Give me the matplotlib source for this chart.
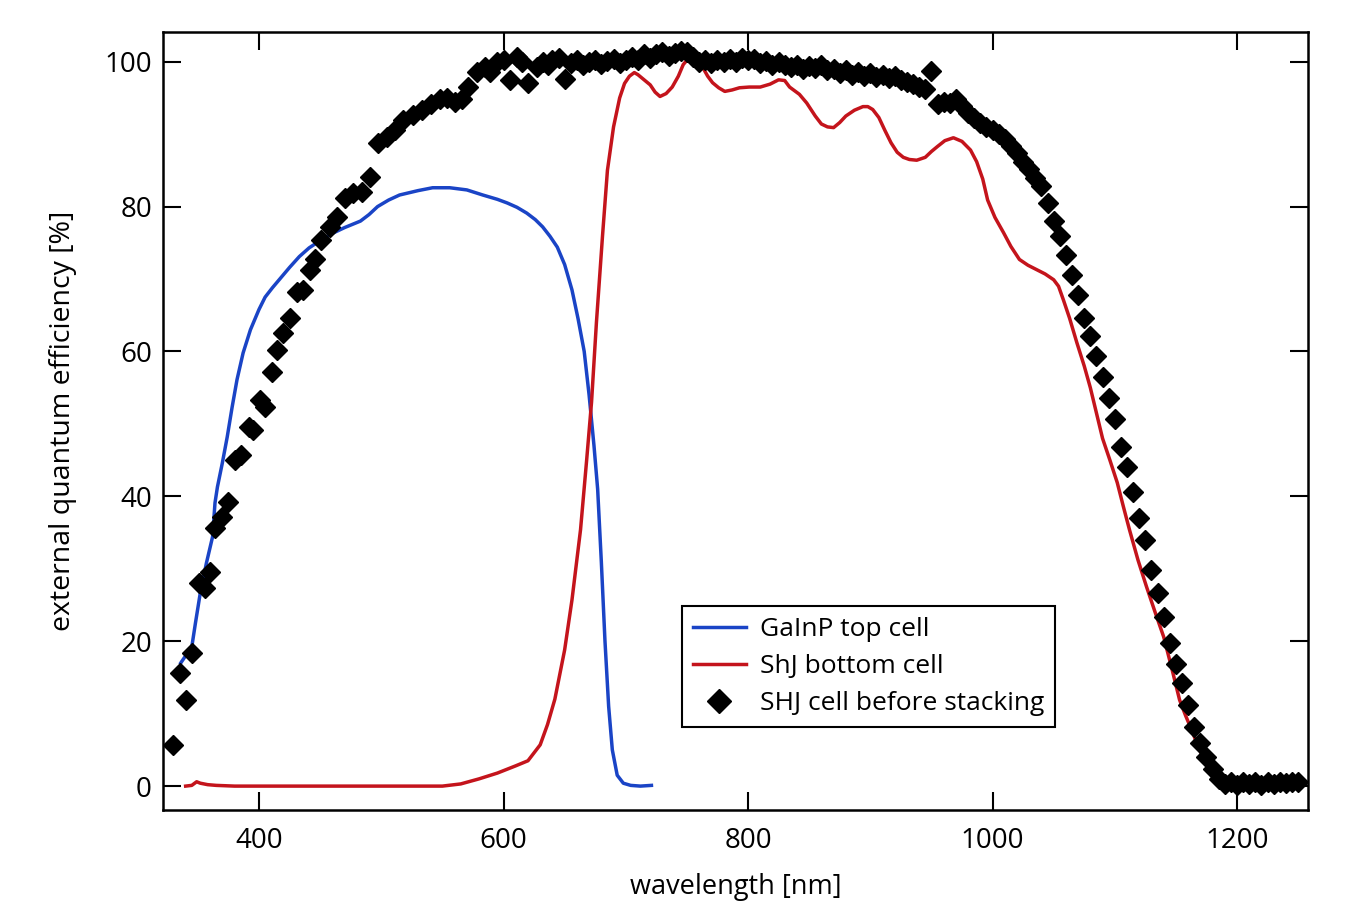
import matplotlib
matplotlib.use("Agg")
import matplotlib.pyplot as plt

plt.rcParams['font.family'] = ['Open Sans', 'DejaVu Sans']

# SHJ cell before stacking (diamonds)
shj_wl = [330, 335, 340, 345, 351, 356, 360, 364, 370, 375, 380, 385, 392, 395, 401, 405,
          411, 415, 420, 425, 431, 436, 442, 446, 451, 458, 464, 470, 477, 484, 491, 497,
          505, 511, 518, 526, 533, 541, 548, 554, 560, 566, 571, 578, 585, 589, 595, 600,
          605, 611, 615, 620, 627, 632, 636, 640, 645, 650, 655, 660, 665, 670, 675, 680,
          685, 690, 695, 700, 705, 710, 715, 720, 725, 730, 735, 740, 745, 750, 755, 760,
          765, 770, 775, 780, 785, 790, 795, 800, 805, 810, 815, 820, 825, 830, 835, 840,
          845, 850, 855, 860, 865, 870, 875, 880, 885, 890, 895, 900, 905, 910, 915, 920,
          925, 930, 935, 940, 945, 950, 955, 960, 965, 970, 975, 980, 985, 990, 995, 1000,
          1005, 1010, 1015, 1020, 1025, 1030, 1035, 1040, 1045, 1050, 1055, 1060, 1065, 1070,
          1075, 1080, 1085, 1090, 1095, 1100, 1105, 1110, 1115, 1120, 1125, 1130, 1135, 1140,
          1145, 1150, 1155, 1160, 1165, 1170, 1175, 1180, 1185, 1190, 1195, 1200, 1205, 1210,
          1215, 1220, 1225, 1230, 1235, 1240, 1245, 1250]
shj_eqe = [5.7, 15.6, 11.9, 18.4, 28.0, 27.3, 29.6, 35.6, 37.2, 39.2, 45.0, 45.7, 49.6, 49.2, 53.3, 52.3,
           57.2, 60.2, 62.6, 64.6, 68.2, 68.5, 71.3, 72.7, 75.4, 77.2, 78.6, 81.2, 81.9, 82.0, 84.1, 88.8,
           89.6, 90.6, 92.0, 92.7, 93.4, 94.1, 94.8, 95.0, 94.5, 94.8, 96.5, 98.6, 99.3, 98.6, 99.9, 100.3,
           97.5, 100.6, 100.0, 97.1, 99.3, 100.0, 99.6, 100.2, 100.5, 97.6, 99.8, 100.3, 99.6, 100.0, 100.2, 99.7,
           100.1, 100.4, 99.8, 100.2, 100.7, 100.3, 101.0, 100.5, 101.0, 101.3, 100.8, 101.2, 101.5, 101.3, 100.6, 99.9,
           100.3, 99.8, 100.2, 99.9, 100.4, 100.0, 100.5, 100.2, 100.4, 99.8, 100.1, 99.5, 99.9, 99.6, 99.3, 99.5,
           99.0, 99.4, 99.1, 99.5, 98.8, 99.0, 98.5, 98.9, 98.2, 98.6, 98.0, 98.4, 97.9, 98.2, 97.7, 98.0,
           97.5, 97.2, 96.9, 96.5, 96.2, 98.7, 94.1, 94.5, 94.3, 94.8, 93.9, 92.9, 92.2, 91.6, 91.0, 90.6,
           90.0, 89.3, 88.3, 87.4, 86.2, 85.2, 84.0, 82.8, 80.5, 78.0, 76.0, 73.3, 70.6, 67.8,
           64.6, 62.1, 59.4, 56.5, 53.6, 50.7, 46.8, 44.1, 40.6, 37.0, 34.0, 29.9, 26.6, 23.4,
           19.8, 16.8, 14.2, 11.2, 8.1, 6.0, 4.0, 2.3, 1.0, 0.3, 0.5, 0.2, 0.6, 0.3,
           0.5, 0.2, 0.6, 0.3, 0.5, 0.4, 0.6, 0.5]

# GaInP top cell (blue)
top_wl = [336, 340, 345, 348, 352, 357, 362, 364, 366, 370, 374, 378, 382, 387, 393, 400,
          405, 411, 417, 425, 433, 441, 450, 460, 470, 483, 490, 497, 506, 515, 530, 542,
          556, 570, 583, 595, 603, 611, 619, 626, 632, 638, 644, 650, 656, 661, 666, 670,
          674, 677, 680, 683, 686, 689, 693, 698, 704, 712, 721]
top_eqe = [17.0, 18.0, 19.2, 22.5, 26.7, 30.8, 34.4, 39.1, 41.3, 44.6, 48.2, 52.3, 56.1, 59.8, 63.0, 65.8,
           67.5, 68.8, 70.0, 71.6, 73.1, 74.3, 75.3, 76.3, 77.1, 78.0, 78.9, 80.0, 80.9, 81.6, 82.2, 82.6,
           82.6, 82.3, 81.6, 81.0, 80.5, 79.9, 79.1, 78.2, 77.2, 75.9, 74.4, 72.0, 68.5, 64.5, 60.0, 54.0,
           47.0, 41.0, 31.0, 20.0, 11.0, 5.0, 1.5, 0.4, 0.1, 0.0, 0.1]

# ShJ bottom cell (red)
bot_wl = [340, 345, 349, 352, 358, 365, 380, 550, 565, 580, 595, 610, 620, 630, 636, 642,
          650, 656, 663, 668, 672, 676, 681, 685, 690, 695, 699, 703, 707, 710, 715, 720, 724,
          728, 733, 738, 743, 747, 751, 755, 759, 763, 767, 771, 776, 781, 787, 793, 801,
          810, 818, 825, 830, 834, 838, 842, 848, 855, 860, 865, 870, 875, 880, 887, 894,
          898, 902, 907, 912, 917, 922, 927, 932, 938, 945, 950, 955, 961, 968, 975, 982,
          987, 992, 996, 1002, 1009, 1015, 1022, 1029, 1036, 1043, 1050, 1054, 1058, 1063,
          1069, 1075, 1080, 1085, 1090, 1096, 1102, 1107, 1112, 1119, 1126, 1133, 1140, 1147,
          1153, 1158, 1162, 1167, 1172, 1176, 1180, 1184, 1188, 1194, 1200]
bot_eqe = [0.0, 0.1, 0.6, 0.4, 0.2, 0.1, 0.0, 0.0, 0.3, 1.0, 1.8, 2.8, 3.5, 5.7, 8.5, 12.0,
           18.8, 25.7, 35.4, 45.0, 53.0, 64.0, 76.0, 85.0, 91.0, 95.0, 97.0, 98.0, 98.5, 98.2, 97.5, 96.8, 95.8,
           95.2, 95.6, 96.5, 98.0, 99.6, 100.4, 100.6, 100.2, 99.2, 98.0, 97.1, 96.4, 95.9, 96.1, 96.4, 96.5,
           96.5, 96.9, 97.5, 97.4, 96.5, 96.0, 95.5, 94.3, 92.5, 91.4, 91.0, 90.9, 91.6, 92.5, 93.3, 93.8,
           93.8, 93.4, 92.3, 90.5, 88.8, 87.5, 86.8, 86.5, 86.4, 86.8, 87.6, 88.3, 89.1, 89.5, 89.0, 87.8,
           86.2, 83.8, 80.9, 78.5, 76.4, 74.5, 72.7, 71.9, 71.3, 70.7, 69.9, 69.0, 67.1, 64.6,
           61.2, 58.0, 55.0, 51.5, 48.0, 45.0, 41.9, 38.6, 35.4, 31.2, 27.5, 24.0, 20.6, 16.0,
           11.9, 9.7, 8.1, 6.0, 4.0, 2.6, 1.5, 0.7, 0.3, 0.2, 0.2]

x_ticks = [400, 600, 800, 1000, 1200]
y_ticks = [0, 20, 40, 60, 80, 100]

fig = plt.figure(figsize=(13.53, 9.09), dpi=100)
ax = fig.add_axes([0.1205, 0.1089, 0.8462, 0.8559])

blue = '#1a44c6'
red = '#c4141c'

ax.plot(top_wl, top_eqe, color=blue, lw=2.5, label='GaInP top cell', zorder=2)
ax.plot(bot_wl, bot_eqe, color=red, lw=2.5, label='ShJ bottom cell', zorder=2)
ax.plot(shj_wl, shj_eqe, ls='none', marker='D', ms=9.8, color='black',
        label='SHJ cell before stacking', zorder=3)

ax.set_xlim(321.5, 1258)
ax.set_ylim(-3.3, 104.1)
ax.set_xticks(x_ticks)
ax.set_yticks(y_ticks)
ax.tick_params(direction='in', length=13, width=1.5, top=True, right=True,
               labelsize=20, pad=12)
ax.tick_params(axis='y', pad=8)
for s in ax.spines.values():
    s.set_linewidth(1.8)

ax.set_xlabel('wavelength [nm]', fontsize=19.5, labelpad=13)
ax.set_ylabel('external quantum efficiency [%]', fontsize=20.5, labelpad=20)

leg = ax.legend(loc='lower left', bbox_to_anchor=(0.453, 0.1067), fontsize=19,
                frameon=True, fancybox=False, edgecolor='black', framealpha=1,
                handlelength=2.0, borderpad=0.42, labelspacing=0.45, handletextpad=0.55,
                borderaxespad=0, markerscale=1.2)
leg.get_frame().set_linewidth(1.5)

fig.savefig('out.png', dpi=100)
